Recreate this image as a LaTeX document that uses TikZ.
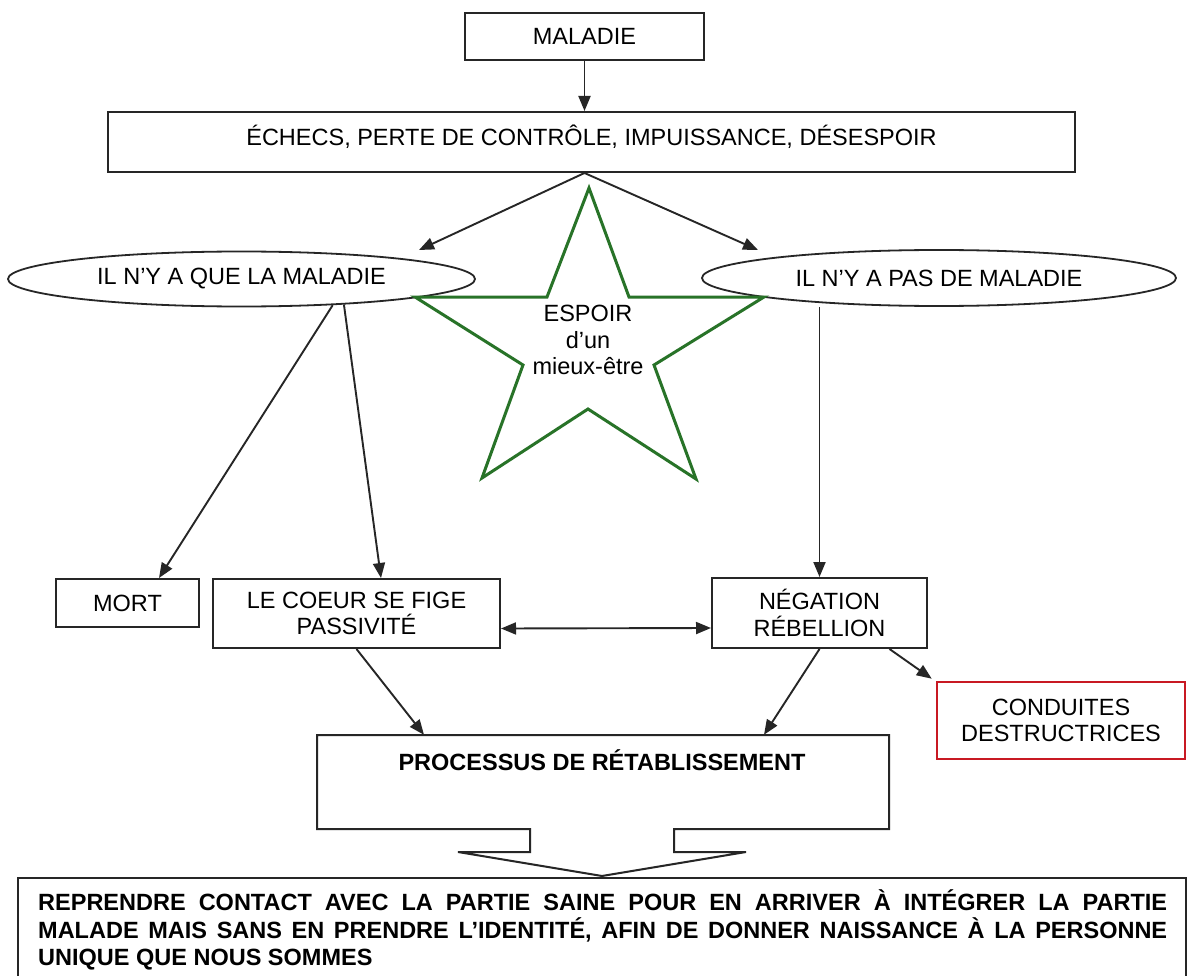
\documentclass[tikz,border=0pt]{standalone}
\usepackage{fontspec}
\setmainfont{Liberation Sans}
\usetikzlibrary{arrows.meta,shapes.geometric,calc}
\definecolor{stargreen}{RGB}{40,115,40}
\definecolor{condred}{RGB}{200,25,35}
\begin{document}
\begin{tikzpicture}[x=1pt,y=-1pt,
  font=\fontsize{23.5}{26.5}\selectfont,
  box/.style={draw=black!85, line width=2pt, inner sep=0pt},
  captext/.style={text height=17pt, text depth=0pt},
  oval/.style={draw=black!85, ellipse, line width=1.8pt, inner sep=0pt},
  arr/.style={draw=black!85, line width=1.9pt, -{Triangle[length=15pt,width=12pt]}},
  darr/.style={draw=black!85, line width=1.9pt, {Triangle[length=15pt,width=12pt]}-{Triangle[length=15pt,width=12pt]}},
  starline/.style={draw=stargreen, line width=3pt, line join=miter},
]
\path[use as bounding box, clip] (0,0) rectangle (1188,976);
\fill[white] (0,0) rectangle (1188,976);

% boxes
\node[box,captext,minimum width=239pt,minimum height=47pt] (maladie) at (584.5,36.5) {MALADIE};
\node[box,text height=17pt,text depth=10pt,minimum width=967pt,minimum height=60pt] (echecs) at (591.5,142) {ÉCHECS, PERTE DE CONTRÔLE, IMPUISSANCE, DÉSESPOIR};

\node[oval, minimum width=467pt, minimum height=55pt] (ell1) at (241.5,279) {IL N’Y A QUE LA MALADIE};
\node[oval, minimum width=474pt, minimum height=56pt] (ell2) at (939,278) {IL N’Y A PAS DE MALADIE};

% star
\draw[starline] (589,188) -- (629,297) -- (764,297) -- (654,365) -- (696,479) -- (588,409) -- (482,478) -- (523,365) -- (415,297) -- (547,297) -- cycle;
\node[align=center, inner sep=0pt] (espoir) at (588,340) {ESPOIR\\d’un\\mieux-être};

\node[box,captext,minimum width=143pt,minimum height=48pt] (mort) at (127.5,603) {MORT};
\node[box,align=center,minimum width=287pt,minimum height=69pt] (coeur) at (356.5,613.5) {LE COEUR SE FIGE\\PASSIVITÉ};
\node[box,align=center,minimum width=215pt,minimum height=70pt] (neg) at (819.5,613) {NÉGATION\\RÉBELLION};
\node[draw=condred, line width=2.6pt, align=center, inner sep=0pt, minimum width=248pt, minimum height=77pt] (cond) at (1061,720.5) {CONDUITES\\DESTRUCTRICES};

% processus with block arrow
\node[minimum width=572pt, minimum height=94pt, inner sep=0pt] (proc) at (603,782) {};
\draw[draw=black!85, line width=2pt, line join=miter] (317,735) -- (889,735) -- (889,829) -- (674,829) -- (674,852) -- (746,852) -- (602,876) -- (458,852) -- (530,852) -- (530,829) -- (317,829) -- cycle;
\node[captext, font=\fontsize{23.5}{26.5}\selectfont\bfseries] (proctitle) at (602,762) {PROCESSUS DE RÉTABLISSEMENT};

% final box
\node[draw=black!85, line width=2.2pt, minimum width=1168pt, minimum height=140pt, anchor=north west, inner sep=0pt] (final) at (17,877) {};
\node[anchor=base west, inner sep=0pt] (finaltext) at (38,910.5) {\parbox[t]{1129pt}{\fontsize{23.5}{27.5}\selectfont\bfseries\tolerance=10000\hyphenpenalty=10000\exhyphenpenalty=10000
REPRENDRE CONTACT AVEC LA PARTIE SAINE POUR EN ARRIVER À INTÉGRER LA PARTIE\linebreak MALADE MAIS SANS EN PRENDRE L’IDENTITÉ, AFIN DE DONNER NAISSANCE À LA PERSONNE\linebreak UNIQUE QUE NOUS SOMMES}};

% connectors
\coordinate (a1) at (419,250);
\coordinate (a2) at (758,250);
\coordinate (echecsout) at (maladie.south |- echecs.south);
\draw[arr] (maladie.south) -- (maladie.south |- echecs.north);
\draw[arr] (echecsout) -- (a1);
\draw[arr] (echecsout) -- (a2);
\draw[arr] (ell1.-16.5) -- ([xshift=31.5pt]mort.north);
\draw[arr] (ell1.-14) -- ([xshift=24.5pt]coeur.north);
\draw[arr] (ell2.south -| neg.north) -- (neg.north);
\draw[darr] ([yshift=-15pt]coeur.east) -- ([yshift=-15pt]neg.west);
\draw[arr] (coeur.south) -- ([xshift=-179pt]proc.north);
\draw[arr] (neg.south) -- ([xshift=161pt]proc.north);
\draw[arr] ([xshift=70pt]neg.south) -- ([xshift=-4pt,yshift=2pt]cond.north west);
\end{tikzpicture}
\end{document}
